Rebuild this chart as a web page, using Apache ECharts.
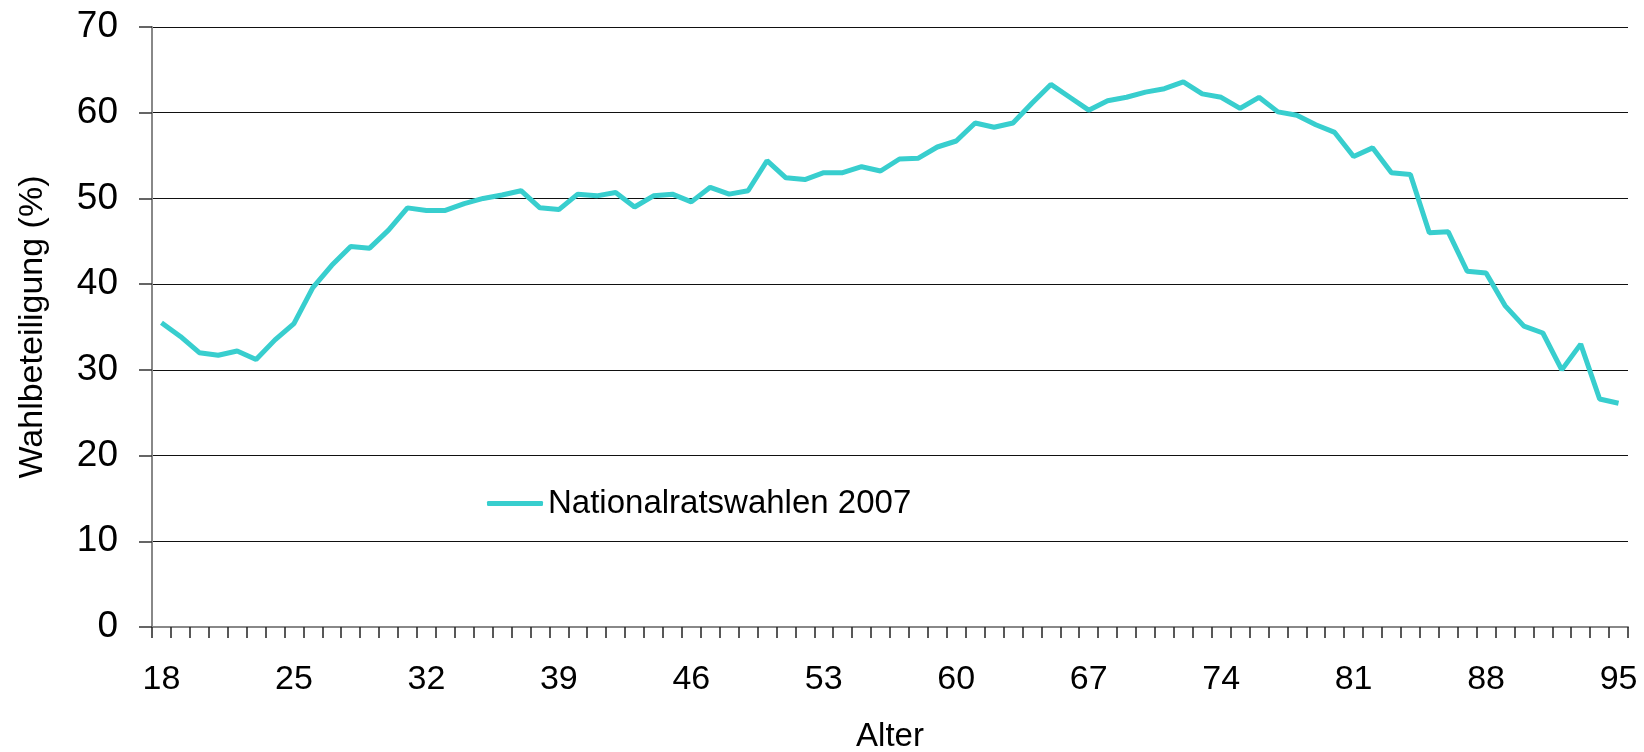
<!DOCTYPE html>
<html>
<head>
<meta charset="utf-8">
<script src="https://cdn.jsdelivr.net/npm/echarts@6/dist/echarts.min.js"></script>
<style>
html,body{margin:0;padding:0;background:#fff;}
#chart{width:1644px;height:752px;}
</style>
</head>
<body>
<div id="chart"></div>
<script>
const ages = [];
for (let a = 18; a <= 95; a++) ages.push(String(a));

const seriesName = 'Nationalratswahlen 2007';
const turnout = [
  35.5, 33.9, 32.0, 31.7, 32.2, 31.2, 33.5, 35.4, 39.6, 42.2,
  44.4, 44.2, 46.3, 48.9, 48.6, 48.6, 49.4, 50.0, 50.4, 50.9,
  48.9, 48.7, 50.5, 50.3, 50.7, 49.0, 50.3, 50.5, 49.6, 51.3,
  50.5, 50.9, 54.4, 52.4, 52.2, 53.0, 53.0, 53.7, 53.2, 54.6,
  54.7, 56.0, 56.7, 58.8, 58.3, 58.8, 61.1, 63.3, 61.8, 60.3,
  61.4, 61.8, 62.4, 62.8, 63.6, 62.2, 61.8, 60.5, 61.8, 60.1,
  59.7, 58.6, 57.7, 54.9, 55.9, 53.0, 52.8, 46.0, 46.1, 41.5,
  41.3, 37.5, 35.1, 34.3, 30.0, 33.0, 26.6, 26.1
];

const yTitle = 'Wahlbeteiligung (%)';
const xTitle = 'Alter';

const chart = echarts.init(document.getElementById('chart'));
const font = 'Liberation Sans, Arial, sans-serif';
chart.setOption({
  animation: false,
  backgroundColor: '#fff',
  grid: { left: 152, right: 16, top: 27, bottom: 125, containLabel: false, outerBoundsMode: 'none' },
  legend: {
    data: [seriesName],
    left: 482,
    top: 482,
    icon: 'roundRect',
    itemWidth: 56,
    itemHeight: 5,
    textStyle: { fontFamily: font, fontSize: 33, color: '#000' }
  },
  xAxis: {
    type: 'category',
    data: ages,
    boundaryGap: true,
    name: xTitle,
    nameLocation: 'middle',
    nameGap: 93,
    nameTextStyle: { fontFamily: font, fontSize: 33, color: '#000' },
    axisLine: { lineStyle: { color: '#888', width: 2 } },
    axisTick: { show: true, interval: 0, length: 11, lineStyle: { color: '#222', width: 1.5 } },
    axisLabel: { interval: 6, margin: 36, fontFamily: font, fontSize: 34, color: '#000' },
    splitLine: { show: false }
  },
  yAxis: {
    type: 'value',
    min: 0,
    max: 70,
    interval: 10,
    name: yTitle,
    nameLocation: 'middle',
    nameGap: 102,
    nameTextStyle: { fontFamily: font, fontSize: 34, color: '#000' },
    axisLine: { show: true, lineStyle: { color: '#888', width: 2 } },
    axisTick: { show: true, length: 13, lineStyle: { color: '#333', width: 1.5 } },
    axisLabel: { margin: 34, fontFamily: font, fontSize: 37, color: '#000' },
    splitLine: { show: true, lineStyle: { color: '#111', width: 1.2 } }
  },
  series: [{
    name: seriesName,
    type: 'line',
    data: turnout,
    symbol: 'none',
    smooth: false,
    lineStyle: { color: '#38CECE', width: 5 },
    itemStyle: { color: '#38CECE' }
  }]
});
</script>
</body>
</html>
